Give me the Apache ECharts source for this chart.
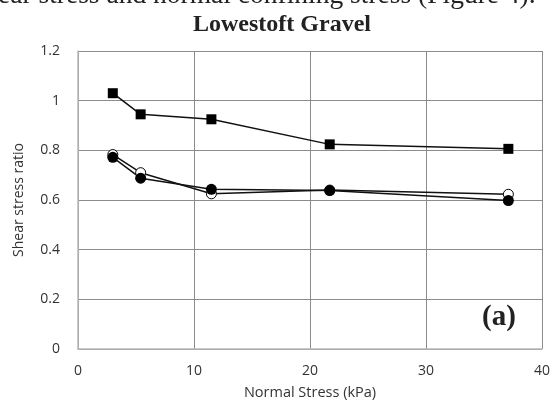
<!DOCTYPE html>
<html>
<head>
<meta charset="utf-8">
<script src="https://cdn.jsdelivr.net/npm/echarts@6/dist/echarts.min.js"></script>
</head>
<body style="margin:0;background:#fff">
<div id="main" style="width:559px;height:400px;"></div>
<script type="text/javascript">
    // data
    var stress = [3, 5.4, 11.5, 21.7, 37.1];
    var squares = [1.03, 0.945, 0.925, 0.824, 0.806];
    var openCircles = [0.783, 0.71, 0.625, 0.64, 0.623];
    var filledCircles = [0.772, 0.688, 0.643, 0.638, 0.598];
    var xTicks = [0, 10, 20, 30, 40];
    var yTicks = [0, 0.2, 0.4, 0.6, 0.8, 1, 1.2];

    function pairs(ys) {
        return stress.map(function (x, i) { return [x, ys[i]]; });
    }

    var myChart = echarts.init(document.getElementById('main'));
    var labelFont = '"Open Sans", sans-serif';

    var option = {
        backgroundColor: '#fff',
        animation: false,
        grid: { left: 78, right: 17, top: 51, bottom: 51, containLabel: false, outerBoundsMode: 'none' },
        graphic: [
            {
                type: 'text', left: -2, top: -18,
                style: { text: 'ear stress and normal confining stress (Figure 4).', font: '27.5px "Liberation Serif", serif', fill: '#222' }
            },
            {
                type: 'text', left: 193, top: 13,
                style: { text: 'Lowestoft Gravel', font: 'bold 24px "Liberation Serif", serif', fill: '#222' }
            },
            {
                type: 'text', left: 482, top: 303,
                style: { text: '(a)', font: 'bold 29px "Liberation Serif", serif', fill: '#222' }
            }
        ],
        xAxis: {
            type: 'value', min: 0, max: 40, interval: 10,
            name: 'Normal Stress (kPa)', nameLocation: 'middle', nameGap: 36,
            nameTextStyle: { fontFamily: labelFont, fontSize: 14.5, color: '#333' },
            axisLine: { lineStyle: { color: '#b8b8b8', width: 1.5 } },
            axisTick: { show: false },
            axisLabel: {
                margin: 15, fontFamily: labelFont, fontSize: 14, color: '#333',
                formatter: function (v) { return xTicks.indexOf(v) >= 0 ? String(v) : ''; }
            },
            splitLine: { show: true, lineStyle: { color: '#8c8c8c', width: 1 } }
        },
        yAxis: {
            type: 'value', min: 0, max: 1.2, interval: 0.2,
            name: 'Shear stress ratio', nameLocation: 'middle', nameGap: 52,
            nameTextStyle: { fontFamily: labelFont, fontSize: 14, color: '#333' },
            axisLine: { show: true, lineStyle: { color: '#b8b8b8', width: 1.5 } },
            axisTick: { show: false },
            axisLabel: {
                margin: 18, fontFamily: labelFont, fontSize: 14, color: '#333',
                formatter: function (v) {
                    var r = Math.round(v * 10) / 10;
                    return yTicks.indexOf(r) >= 0 ? String(r) : '';
                }
            },
            splitLine: { show: true, lineStyle: { color: '#8c8c8c', width: 1 } }
        },
        series: [
            {
                name: 'squares', type: 'line', data: pairs(squares),
                symbol: 'rect', symbolSize: 10,
                lineStyle: { color: '#111', width: 1.5 },
                itemStyle: { color: '#000' }
            },
            {
                name: 'open', type: 'line', data: pairs(openCircles),
                symbol: 'circle', symbolSize: 10,
                lineStyle: { color: '#111', width: 1.5 },
                itemStyle: { color: '#fff', borderColor: '#000', borderWidth: 1 }
            },
            {
                name: 'filled', type: 'line', data: pairs(filledCircles),
                symbol: 'circle', symbolSize: 11,
                lineStyle: { color: '#111', width: 1.5 },
                itemStyle: { color: '#000' }
            }
        ]
    };

    myChart.setOption(option);
</script>
</body>
</html>
